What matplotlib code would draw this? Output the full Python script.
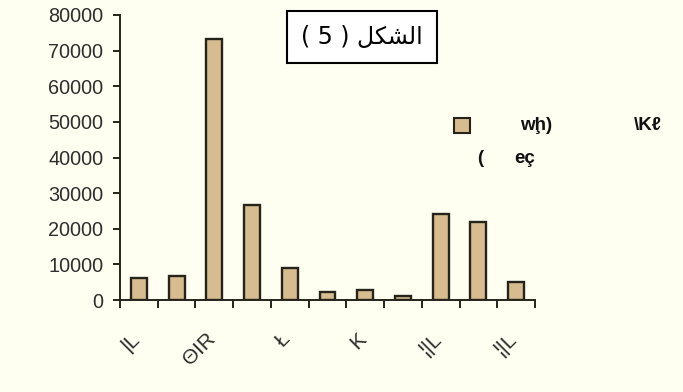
import numpy as np
import matplotlib
matplotlib.use("Agg")
import matplotlib.pyplot as plt
from matplotlib.patches import Rectangle
from matplotlib.transforms import ScaledTranslation

# ---- data ----
categories = ["|L", "", "ΘIR", "", "Ł", "", "K", "", "¦|L", "", "¦|L"]
values = [6300, 6700, 73300, 26600, 9000, 2200, 2700, 1200, 24200, 21800, 5100]
y_ticks = [0, 10000, 20000, 30000, 40000, 50000, 60000, 70000, 80000]
title_text = "( 5 ) " + "\ufede\ufedc\ufeb8\ufedf\ufe8d"  # الشكل ( 5 ) in visual order
legend_row1_a = "wḩ)"
legend_row1_b = "\\Kℓ"
legend_row2_a = "("
legend_row2_b = "eç"

BG = "#FEFEF1"
BAR = "#D6BC8E"
EDGE = "#26241a"
TXT = "#2e2e2e"
W, H = 683, 392

fig = plt.figure(figsize=(W / 100, H / 100), dpi=100, facecolor=BG)
ax = fig.add_axes([120 / W, 1 - 300 / H, (535 - 120) / W, (300 - 15) / H])
ax.set_facecolor(BG)

x = np.arange(len(values))
ax.bar(x, values, width=0.42, color=BAR, edgecolor=EDGE, linewidth=1.7, zorder=3)

ax.set_xlim(-0.5, len(values) - 0.5)
ax.set_ylim(0, 80000)
ax.set_yticks(y_ticks)
ax.set_yticklabels([str(v) for v in y_ticks])

for s in ["top", "right"]:
    ax.spines[s].set_visible(False)
for s in ["left", "bottom"]:
    ax.spines[s].set_color(EDGE)
    ax.spines[s].set_linewidth(1.4)

ax.tick_params(axis="y", length=5, width=1.4, color=EDGE, pad=7,
               labelsize=14.3, labelcolor=TXT)
for lab in ax.get_yticklabels():
    lab.set_family(["Liberation Sans", "DejaVu Sans"])

# boundaries ticks (minor), labels (major)
ax.set_xticks(np.arange(-0.5, len(values), 1.0), minor=True)
ax.tick_params(axis="x", which="minor", length=6, width=1.4, color=EDGE)
lab_pos = [i for i, c in enumerate(categories) if c]
ax.set_xticks(lab_pos)
ax.set_xticklabels([categories[i] for i in lab_pos], rotation=45, ha="right",
                   va="top", rotation_mode="anchor",
                   family=["Liberation Sans", "DejaVu Sans"], fontsize=15, color=TXT)
ax.tick_params(axis="x", which="major", length=0, pad=21)
off = ScaledTranslation(-9 / 100, 0, fig.dpi_scale_trans)
for lab in ax.get_xticklabels():
    lab.set_transform(lab.get_transform() + off)

# title box
fig.text(362 / W, 1 - 37 / H, title_text, ha="center", va="center",
         fontsize=17, family=["DejaVu Sans"], color="black",
         bbox=dict(boxstyle="square,pad=0.6", facecolor="white",
                   edgecolor="black", linewidth=1.5))

# legend (manual)
fig.add_artist(Rectangle((454 / W, 1 - 133 / H), 16 / W, 15 / H,
                         transform=fig.transFigure, facecolor=BAR,
                         edgecolor=EDGE, linewidth=1.5))
lf = dict(fontsize=13.5, fontweight="bold", family=["Liberation Sans", "DejaVu Sans"],
          color="#111111", va="center", ha="left")
fig.text(520 / W, 1 - 125 / H, legend_row1_a, **lf)
fig.text(634 / W, 1 - 125 / H, legend_row1_b, **lf)
fig.text(477 / W, 1 - 158 / H, legend_row2_a, **lf)
fig.text(514 / W, 1 - 158 / H, legend_row2_b, **lf)

fig.savefig("out.png", dpi=100, facecolor=BG)
